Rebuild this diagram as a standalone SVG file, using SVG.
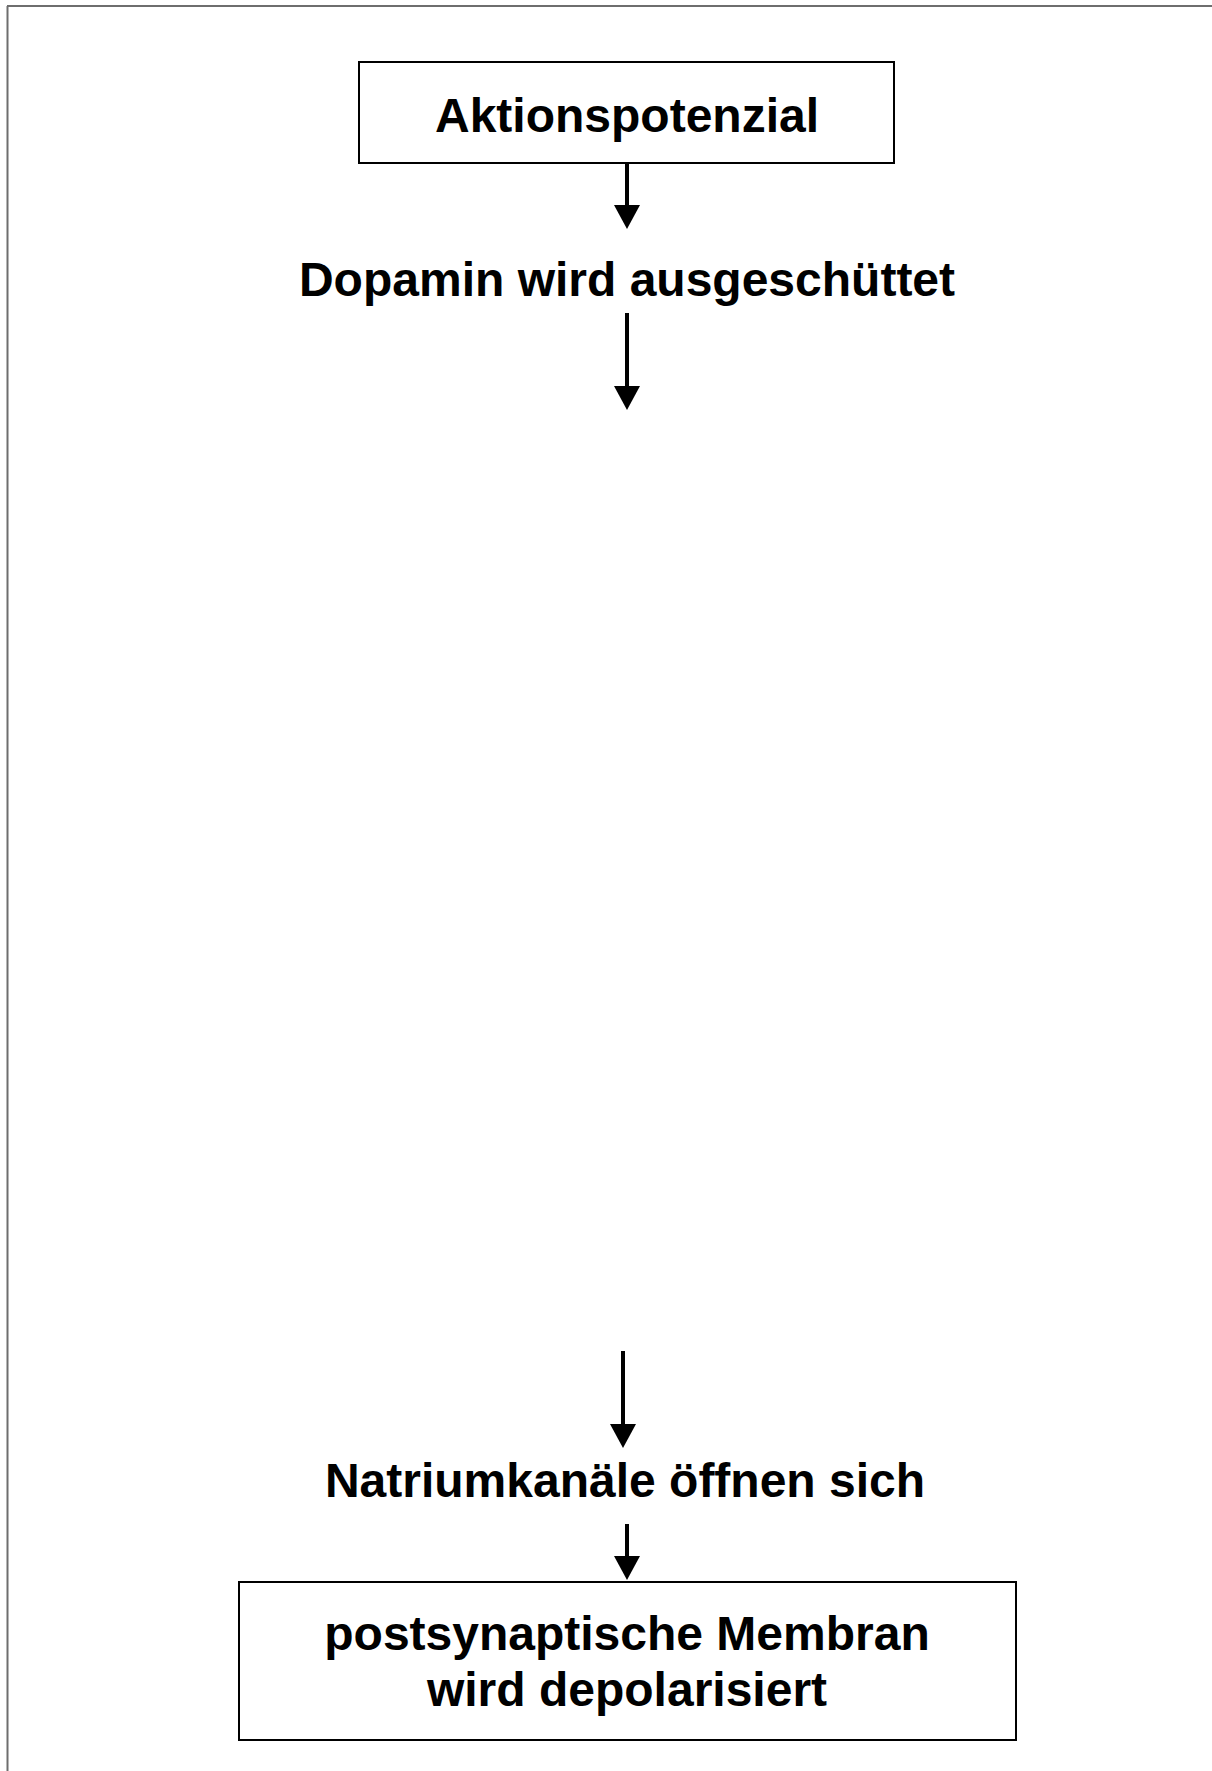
<svg xmlns="http://www.w3.org/2000/svg" width="1212" height="1771" viewBox="0 0 1212 1771">
<style>
.box{fill:#fff;stroke:#000;stroke-width:2}
.t{font-family:"Liberation Sans",Arial,sans-serif;font-weight:bold;font-size:48px;fill:#000;text-anchor:middle}
.c{stroke:#000;stroke-width:4;fill:none}
.h{fill:#000}
</style>
<rect width="1212" height="1771" fill="#fff"/>
<g id="frame" stroke="#6e6e6e" stroke-width="2" fill="none">
<line x1="7" y1="6" x2="1212" y2="6"/>
<line x1="7.5" y1="6" x2="7.5" y2="1771"/>
</g>
<g id="n1">
<rect class="box" x="359" y="62" width="535" height="101"/>
<text class="t" x="627" y="132">Aktionspotenzial</text>
</g>
<g id="n2">
<text class="t" x="627" y="296">Dopamin wird ausgeschüttet</text>
</g>
<g id="n3">
<text class="t" x="625" y="1497">Natriumkanäle öffnen sich</text>
</g>
<g id="n4">
<rect class="box" x="239" y="1582" width="777" height="158"/>
<text class="t" x="627" y="1650">postsynaptische Membran</text>
<text class="t" x="627" y="1706">wird depolarisiert</text>
</g>
<g id="connectors">
<path d="M627,163 V205" class="c"/><path d="M614,205 H640 L627,229 Z" class="h"/>
<path d="M627,313 V386" class="c"/><path d="M614,386 H640 L627,410 Z" class="h"/>
<path d="M623,1351 V1424" class="c"/><path d="M610,1424 H636 L623,1448 Z" class="h"/>
<path d="M627,1524 V1556" class="c"/><path d="M614,1556 H640 L627,1580 Z" class="h"/>
</g>
</svg>
